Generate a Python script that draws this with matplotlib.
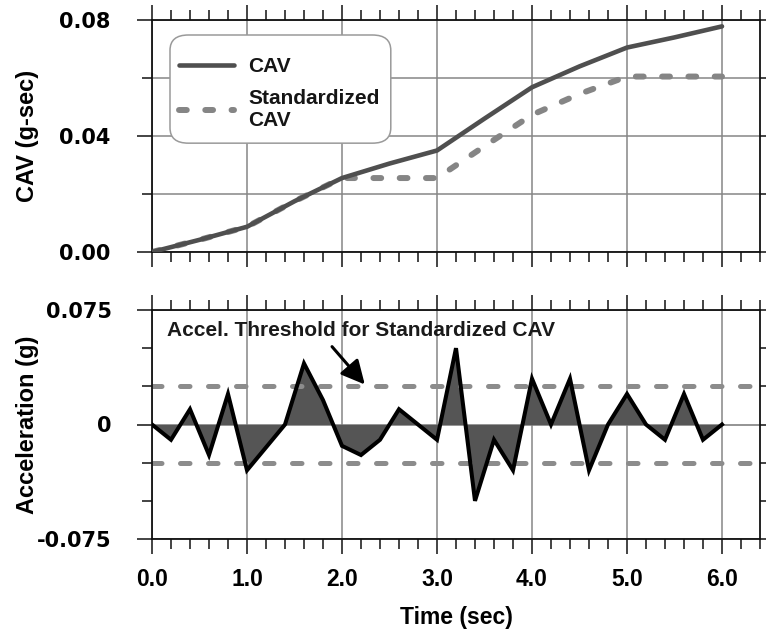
import matplotlib
matplotlib.use("Agg")
import matplotlib.pyplot as plt
from matplotlib.patches import FancyBboxPatch
from matplotlib.ticker import MultipleLocator, FixedLocator, FixedFormatter, FormatStrFormatter

# ---- data -------------------------------------------------------------
# CAV curves (g-sec) sampled every 0.5 s
cav_time = [0.0, 0.5, 1.0, 1.5, 2.0, 2.5, 3.0, 3.5, 4.0, 4.5, 5.0, 5.5, 6.0]
cav = [0.0, 0.0042, 0.0087, 0.0175, 0.0255, 0.0305, 0.0350, 0.0460,
       0.0568, 0.0640, 0.0705, 0.0740, 0.0778]
std_cav = [0.0, 0.0042, 0.0087, 0.0175, 0.0255, 0.0255, 0.0255, 0.0365,
           0.0473, 0.0545, 0.0605, 0.0605, 0.0605]

# acceleration record (g) every 0.2 s
acc_time = [0.0, 0.2, 0.4, 0.6, 0.8, 1.0, 1.2, 1.4, 1.6, 1.8, 2.0,
            2.2, 2.4, 2.6, 2.8, 3.0, 3.2, 3.4, 3.6, 3.8, 4.0,
            4.2, 4.4, 4.6, 4.8, 5.0, 5.2, 5.4, 5.6, 5.8, 6.0]
accel = [0.0, -0.01, 0.01, -0.02, 0.02, -0.03, -0.015, 0.0, 0.04, 0.016, -0.014,
         -0.02, -0.01, 0.01, 0.0, -0.01, 0.05, -0.05, -0.01, -0.03, 0.03,
         0.0, 0.03, -0.03, 0.0, 0.02, 0.0, -0.01, 0.02, -0.01, 0.0]
threshold = 0.025

top_yticks = [0.0, 0.04, 0.08]
bot_yticks = [-0.075, 0.0, 0.075]
bot_ylabels = ["-0.075", "0", "0.075"]
xticks = [0, 1, 2, 3, 4, 5, 6]

plt.rcParams["font.family"] = "Liberation Sans"
plt.rcParams["font.weight"] = "bold"

GRID = "#868686"
W, H = 766, 637
fig = plt.figure(figsize=(W / 100, H / 100), dpi=100)

def px_axes(x0, y0, x1, y1):
    return fig.add_axes([x0 / W, 1 - y1 / H, (x1 - x0) / W, (y1 - y0) / H])

ax1 = px_axes(152, 20, 760, 252)
ax2 = px_axes(152, 310, 760, 539)

for ax in (ax1, ax2):
    ax.set_xlim(0, 6.4)
    ax.xaxis.set_major_locator(FixedLocator(xticks))
    ax.xaxis.set_minor_locator(MultipleLocator(0.2))
    ax.xaxis.set_major_formatter(FormatStrFormatter("%.1f"))
    ax.tick_params(which="both", direction="out", top=True, right=True,
                   width=1.1, color="#111111")
    ax.tick_params(which="major", length=11)
    ax.tick_params(which="minor", length=7.5)
    ax.tick_params(axis="x", labelsize=16.5, pad=10)
    for lab in ax.get_xticklabels():
        lab.set_fontweight("bold")
    for sp in ax.spines.values():
        sp.set_linewidth(1.3)
        sp.set_color("#111111")
    ax.grid(axis="x", which="major", color=GRID, lw=1.1)
    ax.set_axisbelow(True)

# ---- top: CAV ---------------------------------------------------------
ax1.set_ylim(0, 0.08)
ax1.yaxis.set_major_locator(FixedLocator(top_yticks))
ax1.yaxis.set_minor_locator(MultipleLocator(0.02))
ax1.yaxis.set_major_formatter(FormatStrFormatter("%.2f"))
ax1.grid(axis="y", which="both", color=GRID, lw=1.1)
ax1.tick_params(axis="x", labelbottom=False)
ax1.tick_params(axis="y", labelsize=15, pad=19)
for lab in ax1.get_yticklabels():
    lab.set_family("DejaVu Sans")
    lab.set_fontweight("bold")

ax1.plot(cav_time, std_cav, color="#858585", lw=4.3, dashes=(1.3, 3.1),
         dash_capstyle="round", label="Standardized\nCAV", zorder=2)
ax1.plot(cav_time, cav, color="#4f4f4f", lw=3.3, solid_capstyle="round",
         label="CAV", zorder=3)

handles, labels = ax1.get_legend_handles_labels()
leg = ax1.legend(handles[::-1], labels[::-1], loc="upper left",
                 bbox_to_anchor=((171 - 152) / 608, (252 - 49) / 232),
                 borderaxespad=0, frameon=False, handlelength=2.6,
                 handletextpad=0.7, labelspacing=0.6,
                 prop={"size": 15, "weight": "bold"})
for t in leg.get_texts():
    t.set_color("#151515")

# rounded frame round the legend contents
fig.canvas.draw()
bb = leg.get_window_extent()
x0, y0 = bb.x0 - 1, bb.y0 - 5
frame = FancyBboxPatch((x0 / W, y0 / H), (bb.width + 4) / W, (bb.height + 19) / H,
                       boxstyle="round,pad=0,rounding_size=0.024",
                       transform=fig.transFigure, facecolor="white",
                       edgecolor="#9a9a9a", lw=1.1, zorder=4)
ax1.add_artist(frame)
frame.set_clip_on(False)
leg.set_zorder(5)

ax1.set_ylabel("CAV (g-sec)", fontsize=17, fontweight="bold")
ax1.yaxis.set_label_coords((39 - 152) / 608, 0.5)

# ---- bottom: acceleration --------------------------------------------
ax2.set_ylim(-0.075, 0.075)
ax2.yaxis.set_major_locator(FixedLocator(bot_yticks))
ax2.yaxis.set_major_formatter(FixedFormatter(bot_ylabels))
ax2.yaxis.set_minor_locator(MultipleLocator(0.025))
ax2.grid(axis="y", which="major", color="#777777", lw=1.1)
ax2.tick_params(axis="y", labelsize=15, pad=18)
for lab in ax2.get_yticklabels():
    lab.set_family("DejaVu Sans")
    lab.set_fontweight("bold")

ax2.fill_between(acc_time, accel, 0, color="#555555", lw=0, zorder=2)
ax2.plot(acc_time, accel, color="black", lw=2.9, solid_joinstyle="miter", zorder=3)
for lvl in (threshold, -threshold):
    ax2.plot([0, 6.4], [lvl, lvl], color="#8c8c8c", lw=3.6, dashes=(1.9, 3.7),
             dash_capstyle="round", zorder=2.5)

ax2.text(0.16, 0.0615, "Accel. Threshold for Standardized CAV", fontsize=15,
         fontweight="bold", color="#1a1a1a", va="center", ha="left")
ax2.annotate("", xy=(2.24, 0.0262), xytext=(1.895, 0.051),
             arrowprops=dict(arrowstyle="-|>,head_length=0.8,head_width=0.4",
                             color="black", lw=2.2, mutation_scale=18,
                             shrinkA=0, shrinkB=0))

ax2.set_ylabel("Acceleration (g)", fontsize=17, fontweight="bold")
ax2.yaxis.set_label_coords((39 - 152) / 608, 0.5)
ax2.set_xlabel("Time (sec)", fontsize=16.5, fontweight="bold", labelpad=11)

fig.savefig("out.png", dpi=100)
